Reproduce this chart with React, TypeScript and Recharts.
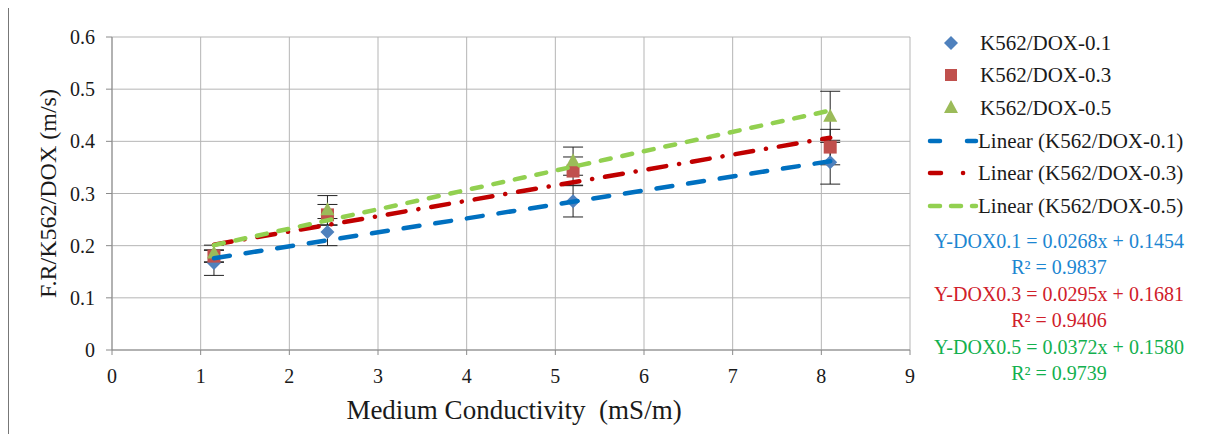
import { ComposedChart, Scatter, XAxis, YAxis, CartesianGrid, ErrorBar } from "recharts";

// measured values (m/s) at each medium conductivity (mS/m)
const conductivity = [1.15, 2.43, 5.2, 8.1];
const dox01 = [0.167, 0.226, 0.285, 0.36];
const dox03 = [0.18, 0.259, 0.343, 0.389];
const dox05 = [0.185, 0.268, 0.362, 0.447];
const err01 = [0.024, 0.026, 0.03, 0.042];
const err03 = [0.012, 0.02, 0.027, 0.034];
const err05 = [0.016, 0.028, 0.027, 0.049];

// linear trend end points
const trendX = [1.15, 8.1];
const trend01 = [0.176, 0.362];
const trend03 = [0.202, 0.407];
const trend05 = [0.201, 0.459];

const xTicks = [0, 1, 2, 3, 4, 5, 6, 7, 8, 9];
const yTicks = [0, 0.1, 0.2, 0.3, 0.4, 0.5, 0.6];

const legendNames = ["K562/DOX-0.1", "K562/DOX-0.3", "K562/DOX-0.5"];
const equations = [
  ["Y-DOX0.1 = 0.0268x + 0.1454", "R² = 0.9837"],
  ["Y-DOX0.3 = 0.0295x + 0.1681", "R² = 0.9406"],
  ["Y-DOX0.5 = 0.0372x + 0.1580", "R² = 0.9739"],
];

const C_BLUE = "#4F81BD";
const C_RED = "#C0504D";
const C_GREEN = "#9BBB59";
const T_BLUE = "#0070C0";
const T_RED = "#C00000";
const T_GREEN = "#92D050";
const EQ_COLORS = ["#1C86D1", "#D0202A", "#12B04E"];

const FONT = "'Liberation Serif', 'Times New Roman', serif";

const points = (ys: number[], errs: number[]) =>
  conductivity.map((x, i) => ({ x, y: ys[i], err: errs[i] }));
const trend = (ys: number[]) => trendX.map((x, i) => ({ x, y: ys[i] }));

function Diamond({ cx, cy }: any) {
  const r = 7;
  return (
    <polygon
      points={`${cx},${cy - r} ${cx + r},${cy} ${cx},${cy + r} ${cx - r},${cy}`}
      fill={C_BLUE}
    />
  );
}

function Square({ cx, cy }: any) {
  return <rect x={cx - 6.5} y={cy - 6.5} width={13} height={13} fill={C_RED} />;
}

function Triangle({ cx, cy }: any) {
  return (
    <polygon
      points={`${cx},${cy - 8} ${cx + 7},${cy + 5} ${cx - 7},${cy + 5}`}
      fill={C_GREEN}
    />
  );
}

const Nothing = () => <g />;

function YTitle({ viewBox }: any) {
  const cx = 48;
  const cy = viewBox.y + viewBox.height / 2;
  return (
    <text
      x={cx}
      y={cy}
      transform={`rotate(-90 ${cx} ${cy})`}
      textAnchor="middle"
      dominantBaseline="central"
      fontFamily={FONT}
      fontSize={24}
      fill="#1a1a1a"
    >
      F.R/K562/DOX (m/s)
    </text>
  );
}

function XTitle({ viewBox }: any) {
  return (
    <text
      x={viewBox.x + viewBox.width / 2 + 3}
      y={410}
      textAnchor="middle"
      dominantBaseline="central"
      fontFamily={FONT}
      fontSize={27}
      fill="#1a1a1a"
      style={{ whiteSpace: "pre" }}
    >
      {"Medium Conductivity  (mS/m)"}
    </text>
  );
}

function LegendBox() {
  const rowY = [43, 75, 108, 141, 173, 206];
  const markers = [
    <polygon key="d" points="951,36 958,43 951,50 944,43" fill={C_BLUE} />,
    <rect key="s" x={945} y={69} width={12} height={12} fill={C_RED} />,
    <polygon key="t" points="951,100 958,113 944,113" fill={C_GREEN} />,
  ];
  const lines = [
    { stroke: T_BLUE, dash: "10 27" },
    { stroke: T_RED, dash: "11 22 0.1 30" },
    { stroke: T_GREEN, dash: "10 11" },
  ];
  return (
    <svg
      width={1217}
      height={442}
      style={{ position: "absolute", left: 0, top: 0, pointerEvents: "none" }}
    >
      {markers}
      {legendNames.map((n, i) => (
        <text
          key={n}
          x={980}
          y={rowY[i]}
          dominantBaseline="central"
          fontFamily={FONT}
          fontSize={21}
          fill="#1a1a1a"
        >
          {n}
        </text>
      ))}
      {lines.map((l, i) => (
        <g key={i}>
          <line
            x1={930}
            x2={976}
            y1={rowY[i + 3]}
            y2={rowY[i + 3]}
            stroke={l.stroke}
            strokeWidth={4.5}
            strokeLinecap="round"
            strokeDasharray={l.dash}
          />
          <text
            x={978}
            y={rowY[i + 3]}
            dominantBaseline="central"
            fontFamily={FONT}
            fontSize={21}
            fill="#1a1a1a"
          >
            {`Linear (${legendNames[i]})`}
          </text>
        </g>
      ))}
      {equations.map((eq, i) => (
        <g key={eq[0]}>
          <text
            x={1059}
            y={241 + i * 53}
            textAnchor="middle"
            dominantBaseline="central"
            fontFamily={FONT}
            fontSize={20}
            fill={EQ_COLORS[i]}
          >
            {eq[0]}
          </text>
          <text
            x={1059}
            y={267 + i * 53}
            textAnchor="middle"
            dominantBaseline="central"
            fontFamily={FONT}
            fontSize={20}
            fill={EQ_COLORS[i]}
          >
            {eq[1]}
          </text>
        </g>
      ))}
    </svg>
  );
}

export default function App() {
  const tickStyle = { fontFamily: FONT, fontSize: 20, fill: "#1a1a1a" };
  return (
    <div style={{ position: "relative", margin: -8, width: 1217, height: 442, background: "#fff" }}>
      <div
        style={{
          position: "absolute",
          left: 7,
          top: 6,
          width: 1208,
          height: 440,
          borderTop: "2px solid #333",
          borderLeft: "2px solid #777",
          borderRight: "1px solid #ccc",
        }}
      />
      <div style={{ position: "absolute", left: 0, top: 0 }}>
        <ComposedChart
          width={1217}
          height={442}
          margin={{ top: 37, right: 307, bottom: 0, left: 0 }}
        >
          <CartesianGrid stroke="#b5b5b5" strokeWidth={1} />
          <XAxis
            dataKey="x"
            type="number"
            domain={[0, 9]}
            ticks={xTicks}
            height={92}
            tick={tickStyle}
            tickSize={5}
            tickMargin={14}
            axisLine={{ stroke: "#8a8a8a" }}
            tickLine={{ stroke: "#8a8a8a" }}
            label={<XTitle />}
            allowDataOverflow
          />
          <YAxis
            dataKey="y"
            type="number"
            domain={[0, 0.6]}
            ticks={yTicks}
            width={112}
            tick={tickStyle}
            tickSize={6}
            tickMargin={11}
            axisLine={{ stroke: "#8a8a8a" }}
            tickLine={{ stroke: "#8a8a8a" }}
            label={<YTitle />}
            allowDataOverflow
          />
          <Scatter data={points(dox01, err01)} shape={Diamond} isAnimationActive={false}>
            <ErrorBar dataKey="err" direction="y" width={10} stroke="#222" strokeWidth={1} isAnimationActive={false} />
          </Scatter>
          <Scatter data={points(dox03, err03)} shape={Square} isAnimationActive={false}>
            <ErrorBar dataKey="err" direction="y" width={10} stroke="#222" strokeWidth={1} isAnimationActive={false} />
          </Scatter>
          <Scatter data={points(dox05, err05)} shape={Triangle} isAnimationActive={false}>
            <ErrorBar dataKey="err" direction="y" width={10} stroke="#222" strokeWidth={1} isAnimationActive={false} />
          </Scatter>
          <Scatter
            data={trend(trend01)}
            shape={Nothing}
            line={{ stroke: T_BLUE, strokeWidth: 4.5, strokeDasharray: "16 16", strokeLinecap: "round" }}
            isAnimationActive={false}
          />
          <Scatter
            data={trend(trend03)}
            shape={Nothing}
            line={{ stroke: T_RED, strokeWidth: 4.5, strokeDasharray: "18 13 0.1 13", strokeLinecap: "round" }}
            isAnimationActive={false}
          />
          <Scatter
            data={trend(trend05)}
            shape={Nothing}
            line={{ stroke: T_GREEN, strokeWidth: 4.5, strokeDasharray: "10 12", strokeLinecap: "round" }}
            isAnimationActive={false}
          />
        </ComposedChart>
      </div>
      <LegendBox />
    </div>
  );
}
